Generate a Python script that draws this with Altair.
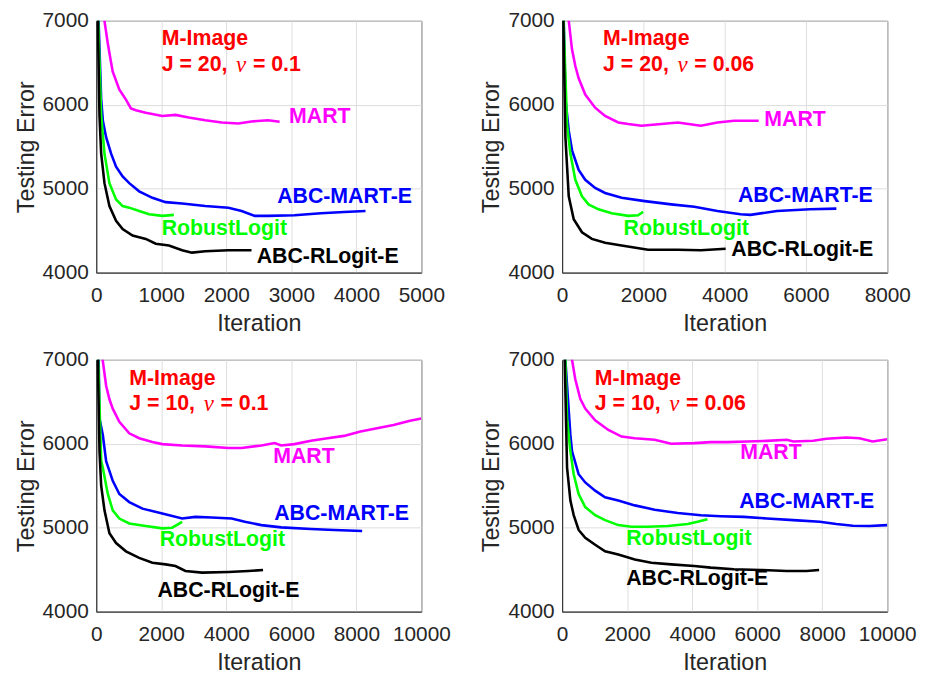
import altair as alt
import pandas as pd

SERIES = ["MART", "ABC-MART-E", "RobustLogit", "ABC-RLogit-E"]
COLORS = ["#FF00FF", "#0000FF", "#00FF00", "#000000"]

XMAX = [5000, 8000, 10000, 10000]
XTICKS = [[0, 1000, 2000, 3000, 4000, 5000],
          [0, 2000, 4000, 6000, 8000],
          [0, 2000, 4000, 6000, 8000, 10000],
          [0, 2000, 4000, 6000, 8000, 10000]]
YTICKS = [4000, 5000, 6000, 7000]

PARAM_J = ["J = 20,", "J = 20,", "J = 10,", "J = 10,"]
PARAM_NU = ["= 0.1", "= 0.06", "= 0.1", "= 0.06"]

# ---- Panel 1: J = 20, nu = 0.1 ----
P1_MART_X = [0, 127, 180, 229, 254, 356, 457, 534, 610, 762, 1016, 1219, 1423, 1677, 1931, 2185, 2388, 2642, 2820]
P1_MART_Y = [7900, 7000, 6720, 6500, 6394, 6180, 6062, 5957, 5934, 5906, 5867, 5879, 5848, 5816, 5789, 5777, 5801, 5816, 5797]
P1_ABCM_X = [0, 36, 76, 102, 152, 229, 305, 406, 508, 660, 864, 1067, 1321, 1677, 2032, 2236, 2439, 2642, 3049, 3455, 3811, 4141]
P1_ABCM_Y = [9000, 7000, 6070, 5809, 5613, 5418, 5262, 5145, 5066, 4969, 4891, 4840, 4824, 4793, 4774, 4734, 4676, 4676, 4684, 4707, 4723, 4734]
P1_ROB_X = [0, 30, 76, 127, 203, 305, 406, 508, 660, 813, 1016, 1194]
P1_ROB_Y = [9000, 7000, 5875, 5418, 5066, 4871, 4793, 4774, 4734, 4695, 4676, 4688]
P1_ABCR_X = [0, 25, 50, 76, 127, 203, 305, 406, 559, 660, 762, 915, 1118, 1321, 1473, 1677, 2032, 2388]
P1_ABCR_Y = [9000, 7000, 5875, 5418, 5066, 4793, 4617, 4520, 4442, 4422, 4402, 4344, 4324, 4266, 4238, 4254, 4266, 4266]

# ---- Panel 2: J = 20, nu = 0.06 ----
P2_MART_X = [0, 163, 244, 325, 407, 569, 813, 1057, 1382, 1626, 1951, 2439, 2846, 3415, 3821, 4228, 4837]
P2_MART_Y = [7800, 7000, 6657, 6461, 6316, 6121, 5965, 5867, 5789, 5770, 5750, 5770, 5789, 5750, 5789, 5809, 5809]
P2_ABCM_X = [0, 40, 81, 163, 244, 407, 569, 813, 1057, 1463, 2033, 2683, 3252, 3821, 4390, 4634, 5285, 6098, 6748]
P2_ABCM_Y = [9000, 7000, 6070, 5691, 5457, 5223, 5106, 5008, 4949, 4891, 4852, 4813, 4785, 4734, 4695, 4688, 4734, 4754, 4762]
P2_ROB_X = [0, 35, 122, 203, 325, 488, 650, 894, 1220, 1626, 1870, 1992]
P2_ROB_Y = [9000, 7000, 5757, 5418, 5106, 4910, 4813, 4754, 4707, 4676, 4684, 4723]
P2_ABCR_X = [0, 30, 81, 163, 285, 488, 732, 1057, 1463, 2114, 2846, 3415, 4024]
P2_ABCR_Y = [9000, 7000, 5613, 4910, 4637, 4481, 4402, 4356, 4324, 4273, 4273, 4266, 4285]

# ---- Panel 3: J = 10, nu = 0.1 ----
P3_MART_X = [0, 203, 305, 406, 508, 711, 1016, 1321, 1727, 2032, 2642, 3353, 4064, 4470, 5080, 5486, 5690, 6096, 6604, 7112, 7620, 8128, 8636, 9144, 9652, 10000]
P3_MART_Y = [7800, 6985, 6692, 6530, 6418, 6262, 6125, 6066, 6020, 5996, 5980, 5969, 5949, 5949, 5980, 6008, 5980, 5996, 6035, 6066, 6094, 6145, 6184, 6223, 6274, 6300]
P3_ABCM_X = [0, 75, 101, 203, 305, 508, 711, 1016, 1422, 2032, 2642, 3048, 3556, 4166, 4572, 5080, 5690, 6604, 7315, 8179]
P3_ABCM_Y = [9000, 7000, 6300, 6105, 5793, 5559, 5402, 5305, 5227, 5168, 5109, 5129, 5121, 5109, 5070, 5031, 5004, 4984, 4973, 4961]
P3_ROB_X = [0, 60, 152, 203, 356, 508, 711, 1016, 1524, 2032, 2337, 2642]
P3_ROB_Y = [9000, 7000, 5793, 5715, 5402, 5207, 5109, 5051, 5020, 4992, 5000, 5070]
P3_ABCR_X = [0, 50, 101, 152, 254, 406, 610, 914, 1321, 1727, 2134, 2438, 2743, 3251, 4064, 4674, 5131]
P3_ABCR_Y = [9000, 7000, 5910, 5500, 5207, 4934, 4817, 4719, 4641, 4582, 4563, 4543, 4484, 4465, 4473, 4484, 4496]

# ---- Panel 4: J = 10, nu = 0.06 ----
P4_MART_X = [0, 305, 405, 558, 711, 1016, 1422, 1829, 2235, 2845, 3353, 4064, 4572, 5080, 5690, 6299, 6909, 7112, 7722, 8128, 8738, 9144, 9550, 10000]
P4_MART_Y = [7800, 7000, 6769, 6535, 6420, 6280, 6164, 6086, 6066, 6047, 6000, 6008, 6020, 6020, 6027, 6035, 6047, 6027, 6035, 6059, 6074, 6066, 6027, 6055]
P4_ABCM_X = [0, 100, 152, 254, 305, 508, 711, 1016, 1321, 1727, 2235, 2845, 3556, 4267, 4877, 5588, 6299, 7112, 7925, 8433, 8941, 9449, 10000]
P4_ABCM_Y = [9000, 7000, 6692, 6106, 5910, 5637, 5539, 5441, 5363, 5324, 5266, 5215, 5176, 5149, 5137, 5129, 5110, 5090, 5070, 5043, 5023, 5020, 5031]
P4_ROB_X = [0, 100, 152, 254, 356, 508, 711, 1016, 1321, 1727, 2134, 2642, 3251, 3861, 4166, 4470]
P4_ROB_Y = [9000, 7000, 6300, 5910, 5637, 5402, 5246, 5149, 5090, 5031, 5012, 5012, 5020, 5043, 5070, 5102]
P4_ABCR_X = [0, 80, 152, 254, 356, 508, 711, 1016, 1321, 1727, 2235, 2743, 3353, 4064, 4572, 5283, 6096, 6909, 7518, 7904]
P4_ABCR_Y = [9000, 7000, 5714, 5324, 5150, 4973, 4880, 4797, 4719, 4680, 4621, 4582, 4563, 4543, 4524, 4504, 4496, 4484, 4484, 4496]

# label anchors (data units): [MART, ABC-MART-E, RobustLogit, ABC-RLogit-E]
LAB_X = [[2966, 2782, 1007, 2467],
         [4976, 4325, 1512, 4163],
         [5443, 5473, 1953, 1882],
         [5478, 5447, 1972, 1972]]
LAB_Y = [[5850, 4900, 4517, 4184],
         [5819, 4908, 4520, 4274],
         [5841, 5167, 4854, 4246],
         [5884, 5304, 4861, 4391]]
# header anchors
HEAD_X = [1007, 1008, 1017, 1006]
HEAD_Y1 = [6785, 6785, 6773, 6773]
HEAD_Y2 = [6476, 6476, 6479, 6479]

SERIES_DATA = [
    [(P1_MART_X, P1_MART_Y), (P1_ABCM_X, P1_ABCM_Y), (P1_ROB_X, P1_ROB_Y), (P1_ABCR_X, P1_ABCR_Y)],
    [(P2_MART_X, P2_MART_Y), (P2_ABCM_X, P2_ABCM_Y), (P2_ROB_X, P2_ROB_Y), (P2_ABCR_X, P2_ABCR_Y)],
    [(P3_MART_X, P3_MART_Y), (P3_ABCM_X, P3_ABCM_Y), (P3_ROB_X, P3_ROB_Y), (P3_ABCR_X, P3_ABCR_Y)],
    [(P4_MART_X, P4_MART_Y), (P4_ABCM_X, P4_ABCM_Y), (P4_ROB_X, P4_ROB_Y), (P4_ABCR_X, P4_ABCR_Y)],
]

SANS = "Liberation Sans"
LAB_SIZE = 21.5


def make_panel(i):
    rows = []
    for name, (xs, ys) in zip(SERIES, SERIES_DATA[i]):
        for x, y in zip(xs, ys):
            rows.append({"iter": x, "err": y, "series": name})
    df = pd.DataFrame(rows)
    xscale = alt.Scale(domain=[0, XMAX[i]], nice=False, zero=False)
    yscale = alt.Scale(domain=[4000, 7000], nice=False, zero=False)
    cscale = alt.Scale(domain=SERIES, range=COLORS)
    xenc = alt.X("iter:Q", scale=xscale,
                 axis=alt.Axis(values=XTICKS[i], format="d", title="Iteration"))
    yenc = alt.Y("err:Q", scale=yscale,
                 axis=alt.Axis(values=YTICKS, format="d", title="Testing Error"))

    lines = alt.Chart(df).mark_line(clip=True, strokeWidth=2.6).encode(
        x=xenc, y=yenc,
        color=alt.Color("series:N", scale=cscale, legend=None),
    )

    lab_df = pd.DataFrame({"iter": LAB_X[i], "err": LAB_Y[i], "series": SERIES})
    labels = alt.Chart(lab_df).mark_text(
        align="left", baseline="middle", font=SANS, fontSize=LAB_SIZE, fontWeight="bold"
    ).encode(
        x="iter:Q", y="err:Q", text="series:N",
        color=alt.Color("series:N", scale=cscale, legend=None),
    )

    head_df = pd.DataFrame({"iter": [HEAD_X[i], HEAD_X[i]],
                            "err": [HEAD_Y1[i], HEAD_Y2[i]],
                            "label": ["M-Image", PARAM_J[i]]})
    head = alt.Chart(head_df).mark_text(
        align="left", baseline="middle", font=SANS, fontSize=LAB_SIZE,
        fontWeight="bold", color="#FF0000"
    ).encode(x="iter:Q", y="err:Q", text="label:N")

    nu_df = pd.DataFrame({"iter": [HEAD_X[i]], "err": [HEAD_Y2[i]], "label": ["\u03bd"]})
    nu = alt.Chart(nu_df).mark_text(
        align="left", baseline="middle", font="Liberation Serif", fontSize=23,
        fontStyle="italic", color="#FF0000", dx=75
    ).encode(x="iter:Q", y="err:Q", text="label:N")

    rest_df = pd.DataFrame({"iter": [HEAD_X[i]], "err": [HEAD_Y2[i]], "label": [PARAM_NU[i]]})
    rest = alt.Chart(rest_df).mark_text(
        align="left", baseline="middle", font=SANS, fontSize=LAB_SIZE,
        fontWeight="bold", color="#FF0000", dx=92
    ).encode(x="iter:Q", y="err:Q", text="label:N")

    return alt.layer(lines, labels, head, nu, rest).properties(width=328, height=254)


panels = [make_panel(i) for i in range(4)]

chart = alt.concat(
    *panels, columns=2, bounds="flush", spacing={"row": 88, "column": 142}
).properties(
    padding={"left": 5, "top": -2, "right": 0, "bottom": 0},
).configure_view(
    stroke="#262626", strokeWidth=1
).configure_axis(
    labelFont=SANS, titleFont=SANS, labelFontSize=21, titleFontSize=23.5,
    titleFontWeight="normal", labelColor="#262626", titleColor="#262626",
    domainColor="#262626", gridColor="#dedede", gridWidth=1,
    ticks=False, tickSize=0, labelFlush=False, labelOverlap=False,
).configure_axisX(
    labelPadding=12, titlePadding=6
).configure_axisY(
    labelPadding=8, titlePadding=4
)

chart.save("out.html", embed_options={"renderer": "svg", "actions": False})
